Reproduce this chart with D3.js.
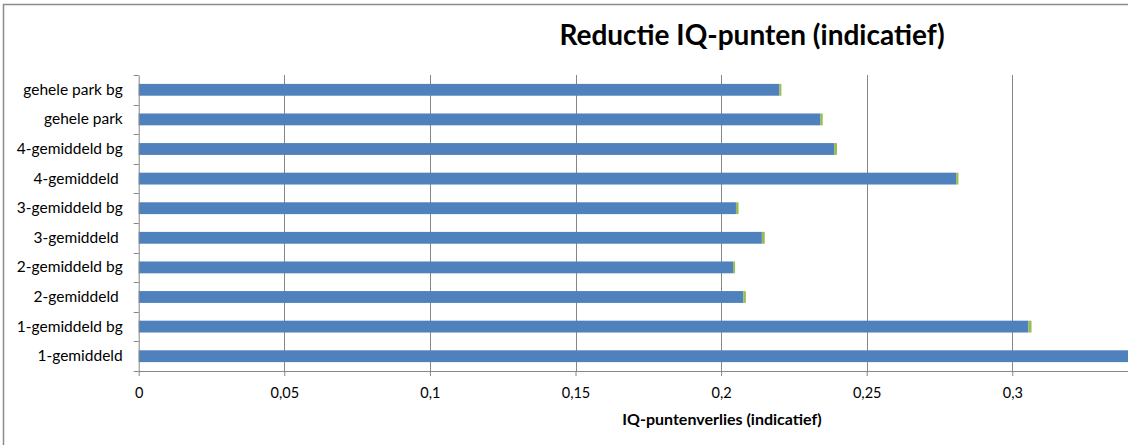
<!DOCTYPE html>
<html>
<head>
<meta charset="utf-8">
<script src="https://cdn.jsdelivr.net/npm/d3@7"></script>
<style>
  html, body { margin: 0; padding: 0; background: #fff; }
  svg { display: block; font-family: Lato, "Open Sans", sans-serif; }
</style>
</head>
<body>
<svg id="chart" width="1128" height="445"></svg>
<script>
// Data (top to bottom as displayed)
const categories = [
  "gehele park bg", "gehele park", "4-gemiddeld bg", "4-gemiddeld ",
  "3-gemiddeld bg", "3-gemiddeld ", "2-gemiddeld bg", "2-gemiddeld ",
  "1-gemiddeld bg", "1-gemiddeld"
];
const mainValues = [0.2200, 0.2340, 0.2388, 0.2807, 0.2051, 0.2140, 0.2041, 0.2076, 0.3055, 0.3600];
const extraValues = [0.0007, 0.0009, 0.0010, 0.0008, 0.0009, 0.0010, 0.0007, 0.0009, 0.0011, 0.0008];
const xTicks = [0, 0.05, 0.1, 0.15, 0.2, 0.25, 0.3];
const chartTitle = "Reductie IQ-punten (indicatief)";
const xTitle = "IQ-puntenverlies (indicatief)";

const svg = d3.select("#chart");
const W = 1128, H = 445;
const plotLeft = 138.7, plotTop = 75, plotBottom = 371;
const x0 = plotLeft, xPerUnit = 2912;

const x = d3.scaleLinear().domain([0, 0.35]).range([x0, x0 + xPerUnit * 0.35]);
const y = d3.scaleBand().domain(categories).range([plotTop, plotBottom]).paddingInner(0.6).paddingOuter(0.3);

// chart border (left & top visible)
svg.append("path")
  .attr("d", `M3.5,${H} L3.5,4.5 L${W},4.5`)
  .attr("fill", "none").attr("stroke", "#8c8c8c").attr("stroke-width", 1.5);

// gridlines
svg.append("g").selectAll("line").data(xTicks.filter(d => d > 0)).join("line")
  .attr("x1", d => Math.round(x(d)) + 0.5).attr("x2", d => Math.round(x(d)) + 0.5)
  .attr("y1", plotTop).attr("y2", plotBottom)
  .attr("stroke", "#868686").attr("stroke-width", 1);

// bars
const bars = svg.append("g");
bars.selectAll("rect.main").data(categories).join("rect")
  .attr("class", "main")
  .attr("x", x(0))
  .attr("y", d => y(d))
  .attr("width", (d, i) => x(mainValues[i]) - x(0))
  .attr("height", y.bandwidth())
  .attr("fill", "#4F81BD");
bars.selectAll("rect.extra").data(categories).join("rect")
  .attr("class", "extra")
  .attr("x", (d, i) => x(mainValues[i]))
  .attr("y", d => y(d))
  .attr("width", (d, i) => x(mainValues[i] + extraValues[i]) - x(mainValues[i]))
  .attr("height", y.bandwidth())
  .attr("fill", "#9BBB59");

// x axis
const xAxis = d3.axisBottom(x).tickValues(xTicks).tickSize(5).tickPadding(11.7)
  .tickFormat(d => d3.format("")(d).replace(".", ","));
const gx = svg.append("g").attr("transform", `translate(0,${plotBottom})`).call(xAxis);
gx.select(".domain").attr("stroke", "#868686").attr("d", `M${x0},0.5H${W}`);
gx.selectAll(".tick line").attr("stroke", "#868686");
gx.selectAll(".tick text").attr("font-size", 14.5).attr("fill", "#000")
  .attr("font-family", "Lato, 'Open Sans', sans-serif");

// y axis
const yAxis = d3.axisLeft(y).tickSize(0).tickPadding(16);
const gy = svg.append("g").attr("transform", `translate(${x0},0)`).call(yAxis);
gy.select(".domain").attr("stroke", "#868686");
gy.selectAll(".tick text").attr("font-size", 15.5).attr("fill", "#000")
  .style("white-space", "pre")
  .attr("font-family", "Lato, 'Open Sans', sans-serif");
// category separator ticks
const sepYs = d3.range(categories.length + 1).map(i => plotTop + i * (plotBottom - plotTop) / categories.length);
gy.append("g").selectAll("line").data(sepYs).join("line")
  .attr("x1", -5).attr("x2", 0)
  .attr("y1", d => Math.round(d) + 0.5).attr("y2", d => Math.round(d) + 0.5)
  .attr("stroke", "#868686");

// title
svg.append("text").attr("x", 752).attr("y", 45).attr("text-anchor", "middle")
  .attr("font-size", 28).attr("font-weight", "bold").text(chartTitle);

// x axis title
svg.append("text").attr("x", 722).attr("y", 425).attr("text-anchor", "middle")
  .attr("font-size", 16).attr("font-weight", "bold").text(xTitle);
</script>
</body>
</html>
